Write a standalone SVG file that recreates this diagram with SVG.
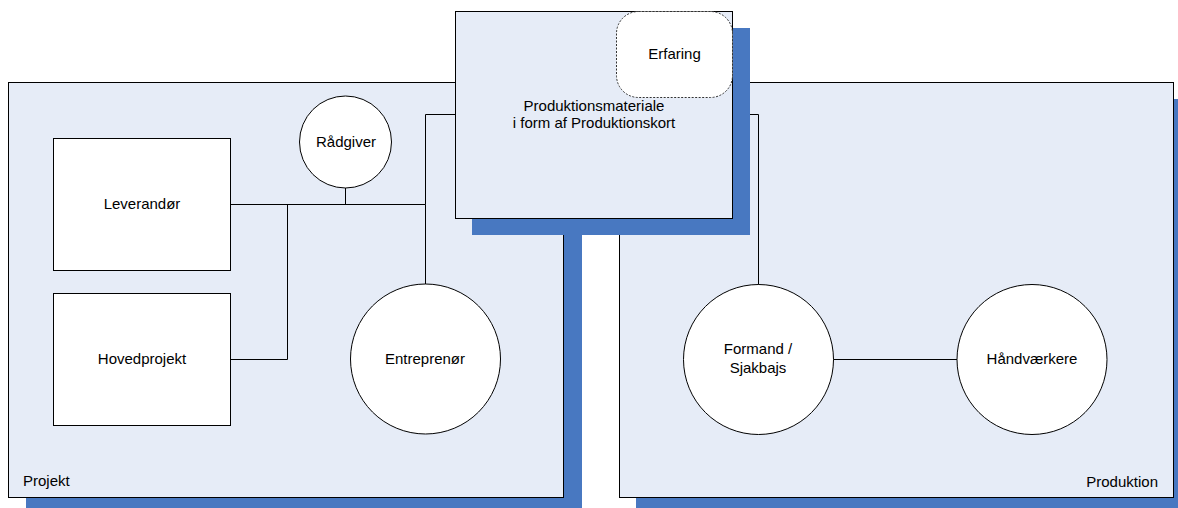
<svg xmlns="http://www.w3.org/2000/svg" width="1178" height="508" viewBox="0 0 1178 508">
  <style>
    .shadow { fill: #4878C1; }
    .panel { fill: #E6ECF7; stroke: #000; stroke-width: 1; }
    .node { fill: #FFFFFF; stroke: #000; stroke-width: 1; }
    .dashed { fill: #FFFFFF; stroke: #333; stroke-width: 1; stroke-dasharray: 2 1.5; }
    .wire { fill: none; stroke: #000; stroke-width: 1; }
    text { font-family: "Liberation Sans", Arial, sans-serif; font-size: 15px; fill: #000; }
    .mid { text-anchor: middle; }
  </style>
  <rect width="1178" height="508" fill="#FFFFFF"/>

  <!-- Projekt panel -->
  <g id="projekt">
    <rect class="shadow" x="26" y="99" width="556" height="416"/>
    <rect class="panel" x="8.5" y="82.5" width="555" height="415"/>
    <text x="23" y="486">Projekt</text>
  </g>

  <!-- Produktion panel -->
  <g id="produktion">
    <rect class="shadow" x="636" y="99" width="556" height="416"/>
    <rect class="panel" x="619.5" y="82.5" width="554" height="415"/>
    <text x="1158" y="487" text-anchor="end">Produktion</text>
  </g>

  <!-- Connectors -->
  <g id="connectors">
    <polyline class="wire" points="231,204.5 425.5,204.5 425.5,114.5 456,114.5"/>
    <line class="wire" x1="345.5" y1="188" x2="345.5" y2="204.5"/>
    <polyline class="wire" points="231,359.5 287.5,359.5 287.5,204.5"/>
    <line class="wire" x1="425.5" y1="204.5" x2="425.5" y2="284"/>
    <polyline class="wire" points="733,114.5 758.5,114.5 758.5,285"/>
    <line class="wire" x1="833" y1="359.5" x2="957" y2="359.5"/>
  </g>

  <g id="leverandor">
    <rect class="node" x="53.5" y="138.5" width="177" height="132"/>
    <text class="mid" x="142" y="209">Leverandør</text>
  </g>

  <g id="hovedprojekt">
    <rect class="node" x="53.5" y="293.5" width="177" height="132"/>
    <text class="mid" x="142" y="364">Hovedprojekt</text>
  </g>

  <g id="radgiver">
    <circle class="node" cx="345.5" cy="142" r="46"/>
    <text class="mid" x="346" y="147">Rådgiver</text>
  </g>

  <g id="entreprenor">
    <circle class="node" cx="425.5" cy="359" r="75"/>
    <text class="mid" x="425" y="364">Entreprenør</text>
  </g>

  <g id="formand">
    <circle class="node" cx="758.5" cy="359.5" r="75"/>
    <text class="mid" x="758" y="354">Formand /</text>
    <text class="mid" x="758" y="372.5">Sjakbajs</text>
  </g>

  <g id="handvaerkere">
    <circle class="node" cx="1032" cy="359.5" r="75"/>
    <text class="mid" x="1032" y="364">Håndværkere</text>
  </g>

  <!-- Produktionsmateriale card with its Erfaring corner -->
  <g id="produktionsmateriale">
    <rect class="shadow" x="472" y="28" width="278" height="207"/>
    <rect class="panel" x="455.5" y="11.5" width="277" height="207"/>
    <text class="mid" x="594" y="110.5">Produktionsmateriale</text>
    <text class="mid" x="594" y="128">i form af Produktionskort</text>
  </g>

  <g id="erfaring">
    <rect class="dashed" x="616.5" y="11.5" width="116" height="86" rx="22" ry="22"/>
    <text class="mid" x="674.5" y="59">Erfaring</text>
  </g>
</svg>
